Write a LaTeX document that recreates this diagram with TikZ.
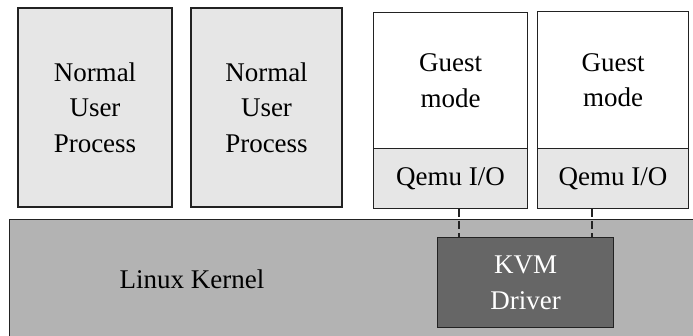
\documentclass[tikz,border=0pt]{standalone}
\usepackage{fontspec}
\setmainfont{Liberation Serif}
\definecolor{lightbox}{HTML}{E6E6E6}
\definecolor{kernelgray}{HTML}{B3B3B3}
\definecolor{kvmgray}{HTML}{666666}
\definecolor{edge}{HTML}{222222}
\begin{document}
\begin{tikzpicture}[x=1bp,y=-1bp,
  box/.style={draw=edge,line width=1.2bp,rectangle,inner sep=0pt,align=center,
    font=\fontsize{27bp}{35.5bp}\selectfont},
  plain/.style={inner sep=0pt,align=center,font=\fontsize{27bp}{35.5bp}\selectfont},
  link/.style={draw=edge,line width=1.2bp,dash pattern=on 8bp off 4bp}]
\clip (0,0) rectangle (693,335);
\fill[white] (0,0) rectangle (693,335);
% kernel
\node[box,fill=kernelgray,minimum width=700bp,minimum height=130bp,anchor=north west] (kernel) at (9,219) {};
\node[plain] (kernellabel) at (192,279) {Linux Kernel};
% normal user processes
\node[box,fill=lightbox,minimum width=154bp,minimum height=199bp] (p1) at (95,107.5) {Normal\\User\\Process};
\node[box,fill=lightbox,minimum width=151bp,minimum height=199bp] (p2) at (266.5,107.5) {Normal\\User\\Process};
% guests
\node[box,fill=white,minimum width=154bp,minimum height=136bp,anchor=north west] (g1) at (373,12) {Guest\\mode};
\node[box,fill=lightbox,minimum width=154bp,minimum height=60bp,anchor=north west] (q1) at (373,148) {Qemu I/O};
\node[box,fill=white,minimum width=151bp,minimum height=137bp,anchor=north west] (g2) at (537,11) {Guest\\mode};
\node[box,fill=lightbox,minimum width=151bp,minimum height=60bp,anchor=north west] (q2) at (537,148) {Qemu I/O};
% KVM driver
\node[box,fill=kvmgray,text=white,minimum width=176bp,minimum height=90bp,anchor=north west] (kvm) at (437,237) {KVM\\Driver};
% connectors
\coordinate (d1) at (459,0);
\coordinate (d2) at (592,0);
\draw[link] (q1.south -| d1) -- (kvm.north -| d1);
\draw[link] (q2.south -| d2) -- (kvm.north -| d2);
\end{tikzpicture}
\end{document}
